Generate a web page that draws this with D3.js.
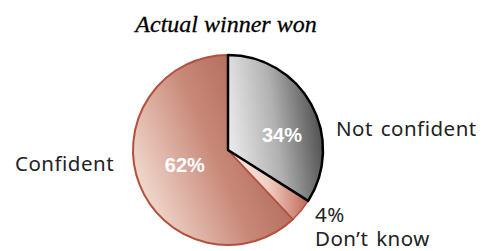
<!DOCTYPE html>
<html>
<head>
<meta charset="utf-8">
<script src="https://cdn.jsdelivr.net/npm/d3@7"></script>
<style>
  body { margin: 0; background: #fff; }
</style>
</head>
<body>
<div id="chart"></div>
<script>
// data
var categories = ["Not confident", "Don\u2019t know", "Confident"];
var values = [34, 4, 62];
var title = "Actual winner won";

var width = 491, height = 251;
var cx = 228, cy = 150, radius = 95;

var svg = d3.select("#chart").append("svg")
    .attr("width", width)
    .attr("height", height);

// gradients for each slice
var defs = svg.append("defs");
var grads = [
    {id: "g0", stops: ["#ececec", "#b0b0b0", "#4a4a4a"], x1: 0, y1: 0.6, x2: 1, y2: 0.4},
    {id: "g1", stops: ["#fbeee8", "#f0cfc3", "#c06a58"], x1: 0, y1: 0.5, x2: 1, y2: 0.5},
    {id: "g2", stops: ["#f6e2d8", "#c88878", "#a45a4a"], x1: 0, y1: 0.75, x2: 1, y2: 0.25}
];
grads.forEach(function (g) {
    var lg = defs.append("linearGradient").attr("id", g.id)
        .attr("x1", g.x1).attr("y1", g.y1).attr("x2", g.x2).attr("y2", g.y2);
    g.stops.forEach(function (c, i) {
        lg.append("stop").attr("offset", (i / (g.stops.length - 1) * 100) + "%").attr("stop-color", c);
    });
});

var strokes = ["#000000", "#b4503e", "#b4503e"];
var strokeW = [2.5, 1.5, 2];

var pie = d3.pie().sort(null).value(function (d) { return d; });
var arc = d3.arc().innerRadius(0).outerRadius(radius);
var arcs = pie(values);

var g = svg.append("g").attr("transform", "translate(" + cx + "," + cy + ")");

// draw confident first so the black outline sits on top
var order = [2, 1, 0];
order.forEach(function (i) {
    g.append("path")
        .attr("d", arc(arcs[i]))
        .attr("fill", "url(#g" + i + ")")
        .attr("stroke", strokes[i])
        .attr("stroke-width", strokeW[i])
        .attr("stroke-linejoin", "round");
});

// percent labels inside (radius fraction, angle nudge in degrees)
var inside = {0: [0.59, 13], 2: [0.48, 3]};
Object.keys(inside).forEach(function (k) {
    var i = +k, a = arcs[i];
    var ang = (a.startAngle + a.endAngle) / 2 + inside[k][1] * Math.PI / 180;
    var r = radius * inside[k][0];
    g.append("text")
        .attr("x", r * Math.sin(ang))
        .attr("y", -r * Math.cos(ang))
        .attr("text-anchor", "middle")
        .attr("dy", "0.36em")
        .attr("font-family", "Liberation Sans, Arial, sans-serif")
        .attr("font-weight", "bold")
        .attr("font-size", 20)
        .attr("fill", "#fff")
        .text(values[i] + "%");
});

// outside labels
function addText(x, y, t) {
    return svg.append("text").attr("x", x).attr("y", y).text(t)
        .attr("font-family", "Noto Sans, sans-serif")
        .attr("font-size", 20.5)
        .attr("letter-spacing", 0.5)
        .attr("word-spacing", 2)
        .attr("fill", "#222");
}
addText(336, 136, categories[0]);
addText(315, 222, values[1] + "%");
addText(315, 246, categories[1]);
addText(15, 171, categories[2]);

svg.append("text")
    .attr("x", 226)
    .attr("y", 32)
    .attr("text-anchor", "middle")
    .attr("font-family", "Liberation Serif, Times New Roman, serif")
    .attr("font-style", "italic")
    .attr("font-size", 24)
    .attr("fill", "#000")
    .attr("stroke", "#000")
    .attr("stroke-width", 0.3)
    .text(title);
</script>
</body>
</html>
